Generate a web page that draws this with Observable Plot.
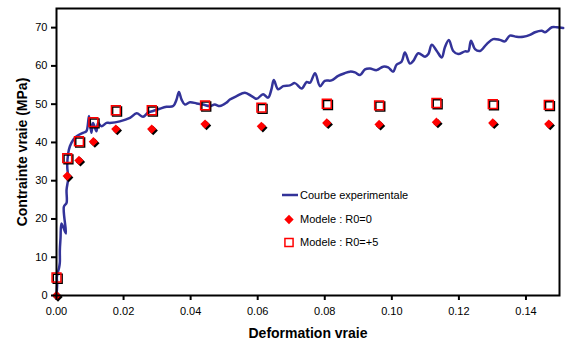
<!DOCTYPE html>
<html><head><meta charset="utf-8">
<script src="https://cdn.jsdelivr.net/npm/d3@7"></script>
<script src="https://cdn.jsdelivr.net/npm/@observablehq/plot@0.6"></script>
<style>
body{margin:0;background:#fff;}
#chart{position:relative;width:570px;height:347px;font-family:"Liberation Sans",Arial,sans-serif;}
#legend{position:absolute;left:0;top:0;pointer-events:none;}
</style></head>
<body><div id="chart"></div>
<script>
// Experimental curve (Deformation vraie, Contrainte vraie MPa)
const curveX = [0,0.0001,0.0002,0.0001,0.0004,0.0008,0.0010,0.0010,0.0012,0.0015,0.0028,0.0022,0.0030,0.0030,0.0035,0.0032,0.0035,0.0040,0.0050,0.0060,0.0079,0.0089,0.0097,0.0104,0.0109,0.0119,0.0124,0.0134,0.0149,0.0159,0.0189,
0.0219,0.0239,0.0258,0.0273,0.0288,0.0308,0.0328,0.0348,0.0358,0.0365,0.0373,0.0383,0.0398,0.0418,0.0437,0.0457,0.0472,0.0487,0.0507,0.0517,0.0537,0.0562,0.0582,0.0597,0.0616,0.0631,0.0641,0.0648,0.0661,0.0676,0.0696,0.0711,0.0731,0.0746,0.0756,0.0771,0.0786,0.0800,0.0820,0.0840,0.0860,0.0875,0.0890,0.0905,0.0920,0.0935,0.0955,0.0974,0.0989,0.1004,0.1014,0.1029,0.1039,0.1054,0.1064,0.1079,0.1099,0.1109,0.1119,0.1134,0.1149,0.1158,0.1170,0.1183,0.1198,0.1218,0.1228,0.1236,0.1248,0.1263,0.1283,0.1302,0.1322,0.1337,0.1352,0.1372,0.1392,0.1412,0.1427,0.1447,0.1457,0.1477,0.1492,0.1511];
const curveY = [0,1.3,3.2,4.7,6.0,7.4,8.7,11.8,15.0,18.8,16.2,23.2,24.2,27.6,30.7,33.7,37.2,39.0,40.7,41.6,42.5,42.9,46.9,42.5,45.1,42.9,45.1,44.2,45.1,45.1,45.5,
46.4,47.6,46.7,47.8,48.2,48.8,49.3,49.5,51.2,53.2,51.2,49.9,50.5,50.2,49.9,49.5,49.9,49.5,50.4,51.2,52.1,53.0,52.1,51.4,52.6,51.7,53.9,56.3,53.9,54.7,54.9,55.5,54.1,55.8,55.6,58.1,54.7,56.1,56.2,57.4,58.1,58.5,58.3,57.6,59.1,59.3,58.9,59.8,59.6,58.5,60.3,61.1,63.5,60.6,61.3,63.3,62.4,63.1,65.5,63.9,62.2,64.8,66.8,63.9,63.1,63.8,63.8,66.6,64.4,63.9,65.7,67.0,66.8,66.4,67.9,67.6,67.6,68.1,68.8,69.2,68.8,70.1,70.1,69.9];
// Model points
const modelX  = [0,0.0032,0.0067,0.0110,0.0177,0.0284,0.0443,0.0611,0.0806,0.0962,0.1133,0.1301,0.1468];
const modelR0 = [0,31.2,35.3,40.2,43.5,43.5,44.8,44.2,45.1,44.7,45.3,45.1,44.8];
const modelR5 = [4.7,35.9,40.3,45.3,48.4,48.4,49.7,49.1,50.1,49.7,50.3,50.0,49.8];
const xTicks = [0,0.02,0.04,0.06,0.08,0.10,0.12,0.14];
const yTicks = [0,10,20,30,40,50,60,70];
const seriesNames = ["Courbe experimentale","Modele : R0=0","Modele : R0=+5"];
const xTitle = "Deformation vraie";
const yTitle = "Contrainte vraie (MPa)";

const curve = curveX.map((x,i)=>({x, y: curveY[i]}));
const r0 = modelX.map((x,i)=>({x, y: modelR0[i]}));
const r5 = modelX.map((x,i)=>({x, y: modelR5[i]}));

const lineColor = "#333399";
const red = "#ff0000";

const chart = Plot.plot({
  width: 570, height: 347,
  marginLeft: 56, marginRight: 11, marginTop: 8, marginBottom: 52,
  style: {fontFamily: '"Liberation Sans", Arial, sans-serif', fontSize: "11px", color: "#000", background: "#fff"},
  x: {domain: [0, 0.15]},
  y: {domain: [0, 75]},
  marks: [
    Plot.line(curve, {x: "x", y: "y", stroke: lineColor, strokeWidth: 2.5, curve: "catmull-rom", strokeLinejoin: "round"}),
    Plot.dot(r5, {x: "x", y: "y", symbol: "square", r: 5, stroke: "#000", strokeWidth: 1.5, fill: "none", dx: 1.2, dy: 1.2}),
    Plot.dot(r5, {x: "x", y: "y", symbol: "square", r: 5, stroke: red, strokeWidth: 1.5, fill: "none"}),
    Plot.dot(r0, {x: "x", y: "y", symbol: "diamond2", r: 4.2, fill: "#000", stroke: "none", dx: 1.5, dy: 1.5}),
    Plot.dot(r0, {x: "x", y: "y", symbol: "diamond2", r: 4.2, fill: red, stroke: "none"}),
    Plot.frame({stroke: "#000", strokeWidth: 2}),
    Plot.axisX({ticks: xTicks, tickFormat: d3.format(".2f"), tickSize: 5, tickPadding: 7, strokeWidth: 2, label: null, fill: "#000"}),
    Plot.axisY({ticks: yTicks, tickSize: 5, tickPadding: 4, strokeWidth: 2, label: null, fill: "#000"}),
    Plot.text([yTitle], {frameAnchor: "left", dx: -34, rotate: -90, textAnchor: "middle", lineAnchor: "middle", text: d => d, fontWeight: "bold", fontSize: 14, fill: "#000"}),
    Plot.text([xTitle], {frameAnchor: "bottom", dy: 38, textAnchor: "middle", lineAnchor: "middle", text: d => d, fontWeight: "bold", fontSize: 14, fill: "#000"})
  ]
});
const root = document.getElementById("chart");
root.appendChild(chart);

// Legend overlay (inside plot area)
const lg = d3.select(root).append("svg").attr("id","legend").attr("width",570).attr("height",347)
  .style("font-family",'"Liberation Sans", Arial, sans-serif').style("font-size","11px");
const rows = [195, 219.5, 242.5];
lg.append("line").attr("x1",282).attr("x2",298).attr("y1",rows[0]).attr("y2",rows[0]).attr("stroke",lineColor).attr("stroke-width",2.5);
lg.append("path").attr("d", d3.symbol(d3.symbolDiamond2, 4.2*4.2*Math.PI)()).attr("transform",`translate(289,${rows[1]})`).attr("fill",red);
lg.append("path").attr("d", d3.symbol(d3.symbolSquare, 4.6*4.6*Math.PI)()).attr("transform",`translate(289,${rows[2]})`).attr("fill","none").attr("stroke",red).attr("stroke-width",1.5);
seriesNames.forEach((s,i)=>{
  lg.append("text").attr("x",300).attr("y",rows[i]).attr("dy","0.35em").attr("fill","#000").text(s);
});
</script>
</body></html>
